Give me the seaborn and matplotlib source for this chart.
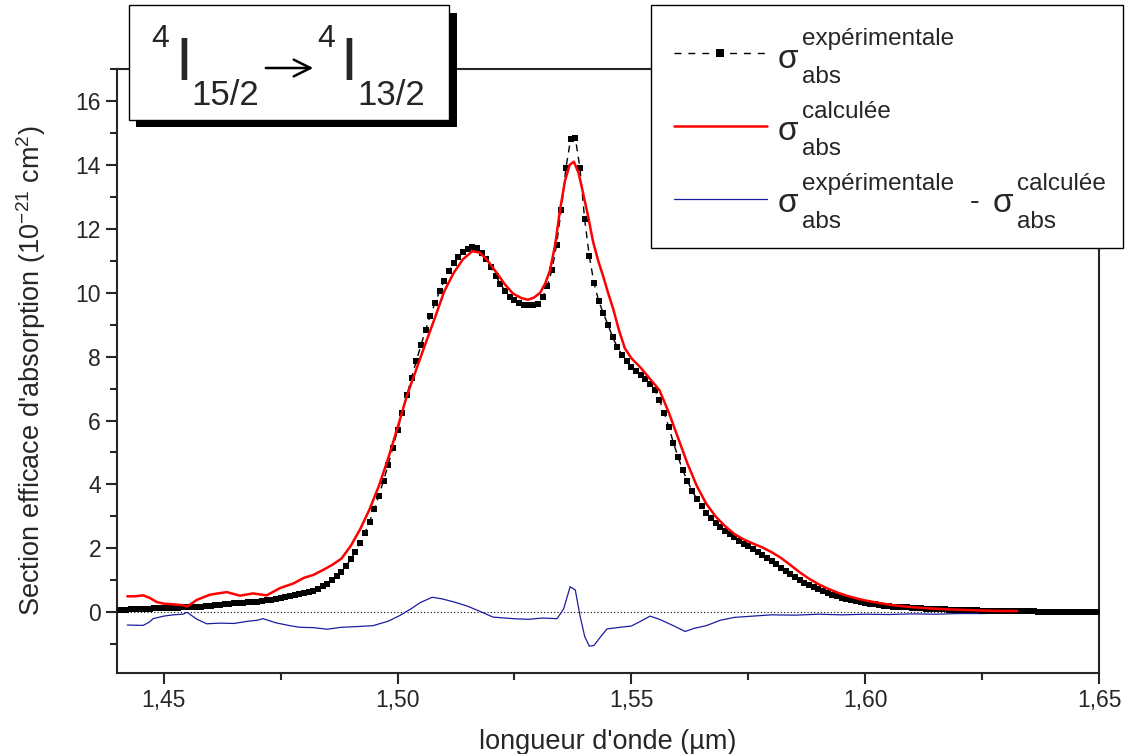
import numpy as np
import matplotlib
matplotlib.use("Agg")
import matplotlib.pyplot as plt
import seaborn as sns
from matplotlib.patches import Rectangle, FancyArrowPatch
from matplotlib.lines import Line2D
from matplotlib.ticker import MultipleLocator, FuncFormatter

# experimental absorption cross-section, sampled every 1 nm from 1.440 to 1.650 um
wl_exp = np.linspace(1.440, 1.650, 211)
sig_exp = [
    0.07, 0.08, 0.08, 0.09, 0.10, 0.10, 0.11, 0.11, 0.12, 0.12,
    0.13, 0.13, 0.14, 0.14, 0.15, 0.15, 0.16, 0.17, 0.18, 0.19,
    0.21, 0.22, 0.24, 0.25, 0.27, 0.28, 0.29, 0.30, 0.31, 0.32,
    0.33, 0.35, 0.37, 0.39, 0.41, 0.44, 0.48, 0.51, 0.54, 0.57,
    0.60, 0.64, 0.68, 0.74, 0.81, 0.90, 1.00, 1.12, 1.27, 1.45,
    1.66, 1.90, 2.17, 2.48, 2.83, 3.22, 3.65, 4.12, 4.62, 5.15,
    5.70, 6.25, 6.80, 7.34, 7.86, 8.36, 8.84, 9.28, 9.68, 10.05,
    10.38, 10.67, 10.92, 11.12, 11.28, 11.38, 11.42, 11.40, 11.25, 11.05,
    10.80, 10.52, 10.28, 10.05, 9.88, 9.76, 9.68, 9.62, 9.60, 9.60,
    9.65, 9.85, 10.20, 10.70, 11.50, 12.60, 13.90, 14.80, 14.85, 13.90,
    12.30, 11.15, 10.30, 9.75, 9.35, 9.00, 8.60, 8.30, 8.05, 7.85,
    7.68, 7.55, 7.42, 7.30, 7.15, 6.95, 6.65, 6.25, 5.80, 5.30,
    4.85, 4.45, 4.10, 3.80, 3.55, 3.32, 3.12, 2.95, 2.80, 2.67,
    2.55, 2.44, 2.34, 2.24, 2.15, 2.06, 1.97, 1.88, 1.79, 1.70,
    1.60, 1.50, 1.40, 1.30, 1.20, 1.10, 1.01, 0.93, 0.86, 0.79,
    0.72, 0.66, 0.60, 0.55, 0.50, 0.46, 0.42, 0.38, 0.35, 0.32,
    0.29, 0.27, 0.25, 0.23, 0.21, 0.19, 0.18, 0.17, 0.16, 0.15,
    0.14, 0.13, 0.12, 0.11, 0.10, 0.10, 0.09, 0.09, 0.08, 0.08,
    0.07, 0.07, 0.06, 0.06, 0.06, 0.05, 0.05, 0.05, 0.04, 0.04,
    0.04, 0.04, 0.03, 0.03, 0.03, 0.03, 0.03, 0.02, 0.02, 0.02,
    0.02, 0.02, 0.02, 0.02, 0.02, 0.01, 0.01, 0.01, 0.01, 0.01, 0.01,
]

# calculated cross-section
wl_calc = [
    1.4422, 1.4440, 1.4456, 1.4470, 1.4485, 1.4500, 1.4520, 1.4541, 1.4550, 1.4571,
    1.4599, 1.4620, 1.4635, 1.4663, 1.4691, 1.4720, 1.4749, 1.4777, 1.4800, 1.4820,
    1.4840, 1.4860, 1.4880, 1.4900, 1.4920, 1.4940, 1.4960, 1.4980, 1.5000, 1.5020,
    1.5040, 1.5060, 1.5080, 1.5100, 1.5120, 1.5140, 1.5160, 1.5176, 1.5190, 1.5213,
    1.5230, 1.5247, 1.5265, 1.5279, 1.5292, 1.5305, 1.5316, 1.5326, 1.5337, 1.5347,
    1.5358, 1.5368, 1.5377, 1.5387, 1.5397, 1.5408, 1.5418, 1.5429, 1.5440, 1.5450,
    1.5461, 1.5473, 1.5486, 1.5500, 1.5520, 1.5540, 1.5560, 1.5580, 1.5600, 1.5620,
    1.5640, 1.5660, 1.5680, 1.5700, 1.5720, 1.5740, 1.5760, 1.5780, 1.5800, 1.5820,
    1.5840, 1.5860, 1.5880, 1.5900, 1.5920, 1.5940, 1.5960, 1.5980, 1.6000, 1.6030,
    1.6060, 1.6100, 1.6140, 1.6180, 1.6220, 1.6260, 1.6300, 1.6325,
]
sig_calc = [
    0.50, 0.50, 0.53, 0.45, 0.32, 0.27, 0.25, 0.22, 0.18, 0.39,
    0.55, 0.60, 0.63, 0.52, 0.59, 0.53, 0.76, 0.90, 1.08, 1.17,
    1.32, 1.48, 1.68, 2.08, 2.60, 3.22, 3.95, 4.82, 5.78, 6.78,
    7.60, 8.42, 9.22, 10.05, 10.62, 11.05, 11.30, 11.25, 11.05, 10.60,
    10.25, 9.97, 9.83, 9.78, 9.85, 10.00, 10.30, 10.70, 11.50, 12.55,
    13.50, 14.00, 14.10, 13.75, 13.10, 12.35, 11.60, 11.00, 10.50, 10.00,
    9.50, 8.85, 8.26, 7.95, 7.65, 7.30, 6.95, 6.25, 5.45, 4.65,
    3.95, 3.40, 3.00, 2.70, 2.45, 2.28, 2.15, 2.03, 1.88, 1.70,
    1.48, 1.25, 1.05, 0.88, 0.74, 0.62, 0.52, 0.44, 0.37, 0.29,
    0.22, 0.16, 0.12, 0.09, 0.07, 0.05, 0.04, 0.04,
]

# difference experimental - calculated
wl_diff = [
    1.4422, 1.4456, 1.4470, 1.4477, 1.4500, 1.4520, 1.4541, 1.4550, 1.4571, 1.4592,
    1.4620, 1.4650, 1.4680, 1.4700, 1.4712, 1.4740, 1.4770, 1.4791, 1.4820, 1.4849,
    1.4880, 1.4910, 1.4947, 1.4980, 1.5005, 1.5030, 1.5048, 1.5074, 1.5095, 1.5119,
    1.5148, 1.5176, 1.5204, 1.5247, 1.5280, 1.5310, 1.5341, 1.5355, 1.5369, 1.5380,
    1.5390, 1.5400, 1.5410, 1.5420, 1.5435, 1.5448, 1.5470, 1.5500, 1.5520, 1.5540,
    1.5560, 1.5590, 1.5615, 1.5635, 1.5660, 1.5690, 1.5720, 1.5760, 1.5800, 1.5850,
    1.5900, 1.5950, 1.6000, 1.6050, 1.6100, 1.6150, 1.6200, 1.6250, 1.6300, 1.6340,
]
sig_diff = [
    -0.40, -0.41, -0.30, -0.20, -0.12, -0.08, -0.06, 0.00, -0.22, -0.36,
    -0.34, -0.35, -0.28, -0.25, -0.20, -0.33, -0.42, -0.47, -0.48, -0.53,
    -0.47, -0.45, -0.42, -0.28, -0.10, 0.12, 0.30, 0.47, 0.42, 0.33,
    0.20, 0.03, -0.15, -0.20, -0.22, -0.18, -0.20, 0.10, 0.80, 0.70,
    -0.10, -0.75, -1.06, -1.04, -0.75, -0.52, -0.48, -0.43, -0.28, -0.12,
    -0.22, -0.42, -0.60, -0.50, -0.42, -0.25, -0.16, -0.12, -0.08, -0.09,
    -0.06, -0.08, -0.06, -0.07, -0.05, -0.06, -0.04, -0.04, -0.02, -0.01,
]

W, H = 1128, 754
sns.set_style("ticks")
plt.rcParams["font.family"] = ["Liberation Sans", "DejaVu Sans"]
plt.rcParams["mathtext.fontset"] = "custom"
plt.rcParams["mathtext.rm"] = "Liberation Sans"

fig = plt.figure(figsize=(W / 100, H / 100), dpi=100)
ax = fig.add_axes([117 / W, 1 - 673 / H, (1099 - 117) / W, (673 - 69) / H])

blue = "#1c1ca0"
ax.axhline(0, color="black", lw=0.8, ls=(0, (1, 2)), zorder=1)
sns.lineplot(x=wl_diff, y=sig_diff, ax=ax, color=blue, lw=0.9, sort=False, zorder=2)
sns.lineplot(x=wl_exp, y=sig_exp, ax=ax, color="black", lw=1.0, ls=(0, (5, 4)),
             marker="s", markersize=5, markeredgewidth=0, sort=False, zorder=3)
sns.lineplot(x=wl_calc, y=sig_calc, ax=ax, color="red", lw=1.8, sort=False, zorder=4)

ax.set_xlim(1.440, 1.650)
ax.set_ylim(-1.9, 17)
ax.xaxis.set_major_locator(MultipleLocator(0.05))
ax.xaxis.set_minor_locator(MultipleLocator(0.025))
ax.yaxis.set_major_locator(MultipleLocator(2))
ax.yaxis.set_minor_locator(MultipleLocator(1))
ax.xaxis.set_major_formatter(FuncFormatter(lambda v, p: f"{v:.2f}".replace(".", ",")))
ax.yaxis.set_major_formatter(FuncFormatter(lambda v, p: f"{v:.0f}"))
ax.tick_params(which="major", length=8, width=1.5, labelsize=16.5, direction="out")
ax.tick_params(which="minor", length=5, width=1.5, direction="out")
for s in ax.spines.values():
    s.set_linewidth(1.5)

ax.set_xlabel("longueur d'onde (µm)", fontsize=19.5, labelpad=12)
ax.set_ylabel("Section efficace d'absorption (10$^{\\mathregular{-21}}$ cm$^{\\mathregular{2}}$)",
              fontsize=19.5, labelpad=20)


def fx(x):
    return x / W


def fy(y):
    return 1 - y / H


def rect(x0, y0, x1, y1, **kw):
    fig.add_artist(Rectangle((fx(x0), fy(y1)), fx(x1) - fx(x0), fy(y0) - fy(y1),
                             transform=fig.transFigure, **kw))


def txt(x, y, s, size):
    fig.text(fx(x), fy(y), s, fontsize=size, ha="left", va="baseline", zorder=10)


# transition title box with shadow
rect(136, 13, 457, 127, facecolor="black", edgecolor="none", zorder=5)
rect(129, 5, 449, 120, facecolor="white", edgecolor="black", lw=1, zorder=6)
txt(151, 47, "4", 23)
txt(175, 80, "I", 44)
txt(191, 105, "15/2", 25)
fig.add_artist(FancyArrowPatch((fx(263), fy(68)), (fx(316), fy(68)), transform=fig.transFigure,
                               arrowstyle="->", mutation_scale=30, lw=1.8, color="black", zorder=10))
txt(317, 47, "4", 23)
txt(340, 80, "I", 44)
txt(357, 105, "13/2", 25)

# legend
rect(651, 5, 1123, 248, facecolor="white", edgecolor="black", lw=1, zorder=6)
fig.add_artist(Line2D([fx(674), fx(767)], [fy(53), fy(53)], transform=fig.transFigure,
                      color="black", lw=1.0, ls=(0, (5, 5)), zorder=10))
fig.add_artist(Line2D([fx(720)], [fy(53)], transform=fig.transFigure, color="black",
                      marker="s", markersize=5.5, markeredgewidth=0, zorder=11))
fig.add_artist(Line2D([fx(674), fx(767)], [fy(126), fy(126)], transform=fig.transFigure,
                      color="red", lw=1.8, zorder=10))
fig.add_artist(Line2D([fx(674), fx(767)], [fy(199), fy(199)], transform=fig.transFigure,
                      color=blue, lw=0.9, zorder=10))

txt(778, 68, "σ", 24)
txt(802, 45, "expérimentale", 17.5)
txt(802, 83, "abs", 17.5)
txt(778, 140, "σ", 24)
txt(802, 118, "calculée", 17.5)
txt(802, 155, "abs", 17.5)
txt(778, 212, "σ", 24)
txt(802, 190, "expérimentale", 17.5)
txt(802, 228, "abs", 17.5)
txt(970, 210, "-", 21)
txt(993, 212, "σ", 24)
txt(1017, 190, "calculée", 17.5)
txt(1017, 228, "abs", 17.5)

fig.savefig("out.png", dpi=100)
